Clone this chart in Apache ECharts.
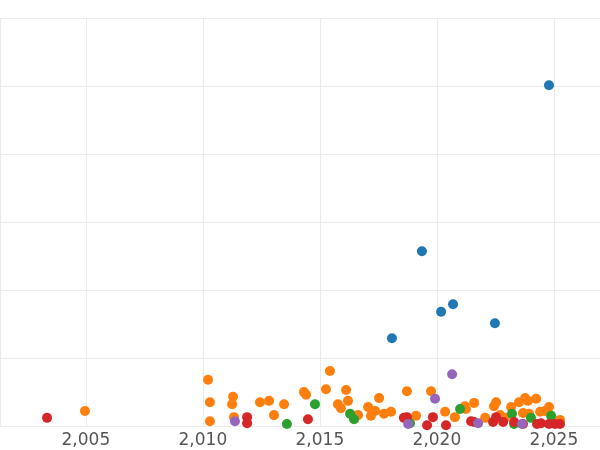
<!DOCTYPE html><html><head><meta charset="utf-8"><script src="https://cdn.jsdelivr.net/npm/echarts@6/dist/echarts.min.js"></script></head><body style="margin:0"><div id="c" style="width:600px;height:450px"></div><script>
const red=[[2003.34,.12],[2011.89,.13],[2011.89,.04],[2014.49,.10],[2018.59,.12],[2018.72,.13],[2019.58,.01],[2019.83,.13],[2020.39,.01],[2021.46,.07],[2021.59,.06],[2022.40,.06],[2022.53,.13],[2022.83,.06],[2023.30,.06],[2023.68,.03],[2024.28,.03],[2024.45,.04],[2024.79,.03],[2025.05,.03],[2025.26,.03]];
const orange=[[2004.96,.22],[2010.22,.68],[2010.30,.35],[2010.30,.07],[2011.29,.43],[2011.25,.32],[2011.33,.13],[2012.44,.35],[2012.83,.37],[2013.04,.16],[2013.47,.32],[2014.32,.50],[2014.41,.46],[2015.26,.54],[2015.43,.81],[2015.77,.32],[2015.90,.26],[2016.12,.53],[2016.20,.37],[2016.63,.16],[2017.06,.28],[2017.18,.15],[2017.36,.22],[2017.53,.41],[2017.74,.18],[2018.04,.21],[2018.72,.51],[2019.11,.15],[2019.75,.51],[2020.35,.21],[2020.77,.13],[2021.20,.29],[2021.24,.25],[2021.59,.34],[2022.06,.12],[2022.44,.29],[2022.53,.35],[2022.70,.16],[2022.91,.12],[2023.17,.28],[2023.51,.35],[2023.68,.19],[2023.77,.41],[2023.89,.37],[2023.94,.18],[2024.24,.40],[2024.41,.21],[2024.62,.22],[2024.79,.28],[2025.26,.09]];
const green=[[2013.59,.03],[2014.79,.32],[2016.29,.18],[2016.46,.10],[2018.85,.04],[2020.99,.25],[2023.21,.18],[2023.30,.03],[2024.02,.12],[2024.88,.15]];
const purple=[[2011.37,.07],[2018.77,.03],[2019.92,.40],[2020.65,.76],[2021.76,.04],[2023.64,.03]];
const blue=[[2018.08,1.29],[2019.36,2.57],[2020.18,1.68],[2020.69,1.79],[2022.48,1.51],[2024.79,5.01]];
const groups=[[blue,'#1f77b4'],[orange,'#ff7f0e'],[green,'#2ca02c'],[red,'#d62728'],[purple,'#9467bd']];
const ch=echarts.init(document.getElementById('c'));
ch.setOption({animation:false,grid:{left:0,right:0,top:18,bottom:24},
xAxis:{type:'value',min:2001.33,max:2026.97,axisLine:{show:false},axisTick:{show:false},splitLine:{lineStyle:{color:'#ebebeb'}},axisLabel:{fontSize:17,color:'#555',fontFamily:'DejaVu Sans',margin:6,showMinLabel:false,showMaxLabel:false}},
yAxis:{type:'value',min:0,max:6,interval:1,axisLine:{show:false},axisTick:{show:false},axisLabel:{show:false},splitLine:{lineStyle:{color:'#ebebeb'}}},
series:groups.map(([d,c])=>({type:'scatter',data:d,symbolSize:10,itemStyle:{color:c,opacity:1}}))});
</script></body></html>
